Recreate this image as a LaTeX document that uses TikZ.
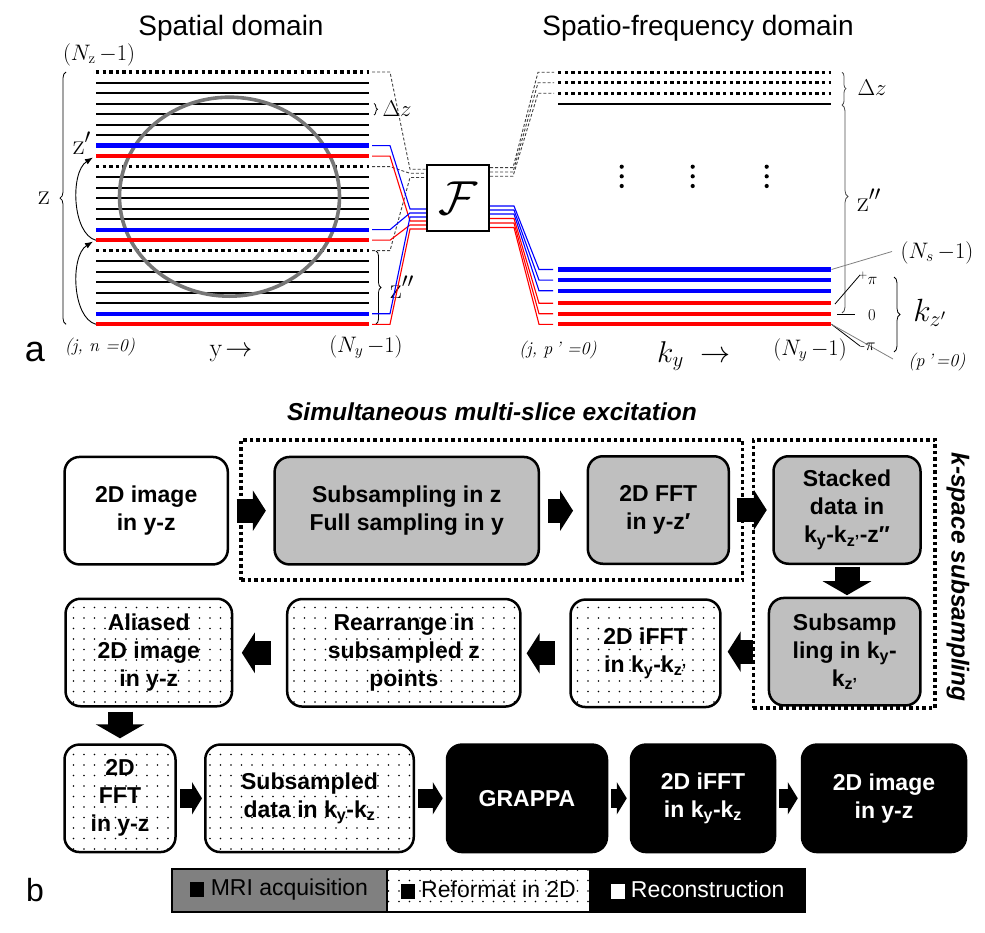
\documentclass[tikz,border=0pt]{standalone}
\usepackage{graphicx}
\usepackage{fontspec}
\newfontfamily\arial{Liberation Sans}
\usetikzlibrary{decorations.pathreplacing,patterns,arrows.meta,calc}
\pgfdeclarepatternformonly{sparsedots}{\pgfqpoint{-1pt}{-1pt}}{\pgfqpoint{1pt}{1pt}}{\pgfqpoint{10.5pt}{10.5pt}}{\pgfpathcircle{\pgfqpoint{0pt}{0pt}}{0.9pt}\pgfusepath{fill}}
\definecolor{boxgray}{RGB}{191,191,191}
\definecolor{leggray}{RGB}{128,128,128}
\definecolor{circgray}{RGB}{118,118,118}
\definecolor{mblue}{RGB}{0,0,255}
\definecolor{mred}{RGB}{255,0,0}
\newcommand\fsz[1]{\fontsize{#1}{#1}\selectfont}
\newcommand\mth[2]{\fsz{20}\scalebox{#1}{$#2$}}
\begin{document}
\begin{tikzpicture}[x=1pt,y=-1pt,
  hl/.style={line width=2pt},
  dl/.style={line width=3.3pt, dash pattern=on 3.3pt off 3.3pt},
  bl/.style={line width=4.2pt, draw=mblue},
  rl/.style={line width=4.2pt, draw=mred},
  tb/.style={line width=1.1pt, draw=mblue},
  tr/.style={line width=1.1pt, draw=mred},
  dsh/.style={line width=0.9pt, dash pattern=on 3pt off 2pt, draw=black!75},
  brc/.style={decorate, decoration={brace, amplitude=#1}, line width=0.8pt},
  lbl/.style={inner sep=0pt},
  flowbox/.style={draw, line width=2.5pt, rounded corners=15pt, align=center, inner sep=0pt, minimum height=107.5pt, font=\arial\bfseries\fontsize{23}{28}\selectfont},
  acq/.style={flowbox, fill=boxgray},
  refm/.style={flowbox, preaction={fill=white}, pattern=sparsedots},
  rec/.style={flowbox, fill=black, text=white},
  harrow/.style={line width=24pt, -{Triangle[length=13pt,width=40pt]}},
  harrowsm/.style={line width=19pt, -{Triangle[length=10pt,width=32pt]}},
  varrow/.style={line width=25pt, -{Triangle[length=14pt,width=48pt]}},
  dotrect/.style={draw, line width=3.5pt, dash pattern=on 3.5pt off 3pt, inner sep=0pt},
  legbox/.style={draw, line width=2pt, minimum width=#1, minimum height=43pt, inner sep=0pt, font=\arial\fsz{23}}
]
\useasboundingbox (0,0) rectangle (985,933);

% ---------------- part a: spatial domain ----------------
\node[lbl, font=\arial\fsz{28}] (t1) at (231,28) {Spatial domain};
\node[lbl, font=\arial\fsz{28}] (t2) at (698,28) {Spatio-frequency domain};

\foreach \i in {1,2,3,4,5,6,10,11,12,13,14,18,19,20,21,22}
  \draw[hl] (96,{72+10.51*\i}) -- (369,{72+10.51*\i});
\foreach \i in {0,9,17}
  \draw[dl] (96,{72+10.51*\i}) -- (369,{72+10.51*\i});
\draw[line width=3.6pt, circgray] (229.5,196.7) ellipse [x radius=110pt, y radius=99.5pt];
\foreach \i in {7,15,23}
  \draw[bl] (96,{72+10.51*\i}) -- (369,{72+10.51*\i});
\foreach \i in {8,16,24}
  \draw[rl] (96,{72+10.51*\i}) -- (369,{72+10.51*\i});

% curved arrows
\draw[line width=0.9pt, -{Latex[length=8pt,width=6pt]}] (96,324.3) .. controls (72,318) and (70,256) .. (93,241.5);
\draw[line width=0.9pt, -{Latex[length=8pt,width=6pt]}] (96,240.3) .. controls (72,234) and (70,172) .. (93,157.5);

% braces left
\draw[brc=6pt] (66,324.3) -- (66,72);
\node[lbl] (zl) at (44,198) {\mth{1.45}{\mathrm{z}}};
\node[lbl] (zpl) at (82,143) {\mth{1.45}{\mathrm{z}'}};
\node[lbl] (nz) at (99,55) {\mth{1.08}{(N_{\mathrm{z}}\,{-}1)}};
\draw[brc=3.5pt] (374,103.5) -- (374,115);
\node[lbl] (dzl) at (397,109) {\mth{1.1}{\Delta z}};
\draw[brc=5pt] (376,251) -- (376,324);
\node[lbl] (zppl) at (402,287) {\mth{1.45}{\mathrm{z}''}};
\node[lbl] (jn) at (100,347) {\fsz{18}\textit{(j, n =0)}};
\node[lbl] (yarr) at (231,354) {\mth{1.3}{\mathrm{y}\!\rightarrow}};
\node[lbl] (nyl) at (366,347) {\mth{1.08}{(N_y\,{-}1)}};
\node[lbl, font=\arial\fsz{36}] (la) at (35,352) {a};

% F box
\node[draw, line width=1.8pt, minimum width=62.5pt, minimum height=66.5pt, inner sep=0pt] (F) at (458,198) {\mth{2.3}{\mathcal{F}}};

% dashed connectors left
\draw[dsh] (372,72) -- (390,72) -- (410,169.3) -- (F.west |- {0,169.3});
\draw[dsh] (372,166.7) -- (390,166.7) -- (410,173.3) -- (F.west |- {0,173.3});
\draw[dsh] (372,250.7) -- (390,250.7) -- (410,177.5) -- (F.west |- {0,177.5});
% colored connectors left
\draw[tb] (372,145.6) -- (390,145.6) -- (410,209) -- (F.west |- {0,209});
\draw[tr] (372,156.1) -- (390,156.1) -- (410,221) -- (F.west |- {0,221});
\draw[tb] (372,229.7) -- (390,229.7) -- (410,213) -- (F.west |- {0,213});
\draw[tr] (372,240.2) -- (390,240.2) -- (410,225) -- (F.west |- {0,225});
\draw[tb] (372,313.7) -- (390,313.7) -- (410,217) -- (F.west |- {0,217});
\draw[tr] (372,324.3) -- (390,324.3) -- (410,229) -- (F.west |- {0,229});

% ---------------- spatio-frequency domain ----------------
\foreach \yy in {72.3,82.8,93.3}
  \draw[dl] (558,\yy) -- (831,\yy);
\draw[hl] (558,103.8) -- (831,103.8);
\foreach \yy in {269.5,280.2,290.8}
  \draw[bl] (558,\yy) -- (831,\yy);
\foreach \yy in {303.3,313.7,324.3}
  \draw[rl] (558,\yy) -- (831,\yy);

\draw[dsh] (F.east |- {0,167.7}) -- (513,167.7) -- (538,72.3) -- (554,72.3);
\draw[dsh] (F.east |- {0,172}) -- (513,172) -- (538,82.8) -- (554,82.8);
\draw[dsh] (F.east |- {0,176.3}) -- (513,176.3) -- (538,93.3) -- (554,93.3);

\draw[tb] (F.east |- {0,206}) -- (514,206) -- (539,269.5) -- (553,269.5);
\draw[tb] (F.east |- {0,210}) -- (514,210) -- (539,280.2) -- (553,280.2);
\draw[tb] (F.east |- {0,214}) -- (514,214) -- (539,290.8) -- (553,290.8);
\draw[tr] (F.east |- {0,218.5}) -- (514,218.5) -- (539,303.3) -- (553,303.3);
\draw[tr] (F.east |- {0,223}) -- (514,223) -- (539,313.7) -- (553,313.7);
\draw[tr] (F.east |- {0,227.5}) -- (514,227.5) -- (539,324.3) -- (553,324.3);

\foreach \x in {621.7,692.7,766.7}
  \foreach \yy in {166.7,176.3,186}
    \fill (\x,\yy) circle (2.1pt);

\draw[brc=4pt, black!70] (842,72.3) -- (842,105);
\node[lbl] (dzr) at (872,88) {\mth{1.1}{\Delta z}};
\draw[brc=6pt, black!70, decoration={aspect=0.44}] (842,105) -- (842,313);
\node[lbl] (zppr) at (869,200) {\mth{1.45}{\mathrm{z}''}};
\draw[brc=6pt] (894,277) -- (894,352);
\node[lbl] (kz) at (930,313) {\mth{1.55}{k_{z'}}};

\draw[line width=0.8pt, black!50] (831.5,269.5) -- (892,251.5);
\node[lbl] (ns) at (937,253) {\mth{1.08}{(N_s\,{-}1)}};
\draw[line width=0.8pt] (835,304) -- (860,275);
\node[lbl] (pp) at (868,278) {\mth{0.8}{^{+}\pi}};
\draw[line width=0.8pt] (837,314.3) -- (855,314.3);
\node[lbl] (zero) at (872,315) {\mth{0.8}{0}};
\draw[line width=0.8pt] (831.5,324.3) -- (860,346);
\draw[line width=0.8pt, black!50] (831.5,324.3) -- (893,359);
\node[lbl] (mp) at (868,347) {\fsz{16}-$\pi$};
\node[lbl] (p0) at (937,362) {\fsz{18}\textit{(p\,'\,=0)}};
\node[lbl] (jp) at (558,350) {\fsz{18}\textit{(j, p\,' =0)}};
\node[lbl] (kyarr) at (694,356) {\mth{1.45}{k_y\;\rightarrow}};
\node[lbl] (nyr) at (810,350) {\mth{1.08}{(N_y\,{-}1)}};

% ---------------- part b: flowchart ----------------
\node[lbl, font=\arial\bfseries\itshape\fsz{24.5}] (smst) at (492,412) {Simultaneous multi-slice excitation};
\node[dotrect, minimum width=501.7pt, minimum height=140pt] (sms) at (491.85,510) {};
\node[dotrect, minimum width=181.7pt, minimum height=268pt] (ksp) at (844.15,574) {};
\node[lbl, rotate=-90, font=\arial\bfseries\itshape\fsz{24.5}] (kspt) at (958,577) {k-space subsampling};

\node[flowbox, minimum width=163.2pt] (A) at (146.2,510.7) {2D image\\in y-z};
\node[acq, minimum width=264.2pt] (B) at (406.7,510.7) {Subsampling in z\\Full sampling in y};
\node[acq, minimum width=141pt] (C) at (658.3,510) {2D FFT\\in y-z′};
\node[acq, minimum width=147pt] (D) at (847,510) {Stacked\\data in\\k\textsubscript{y}-k\textsubscript{z’}-z″};
\node[acq, minimum width=151.5pt] (E) at (844.7,651.7) {Subsamp\\ling in k\textsubscript{y}-\\k\textsubscript{z’}};
\node[refm, minimum width=149.9pt] (Fi) at (645.5,653.3) {2D iFFT\\in k\textsubscript{y}-k\textsubscript{z’}};
\node[refm, minimum width=233.2pt] (G) at (403.8,652.8) {Rearrange in\\subsampled z\\points};
\node[refm, minimum width=166.5pt] (H) at (148.8,652.5) {Aliased\\2D image\\in y-z};
\node[refm, minimum width=111pt] (I) at (120,798.3) {2D\\FFT\\in y-z};
\node[refm, minimum width=208.5pt] (J) at (309.5,798.3) {Subsampled\\data in k\textsubscript{y}-k\textsubscript{z}};
\node[rec, minimum width=160pt] (K) at (527,798.3) {GRAPPA};
\node[rec, minimum width=144pt] (L) at (703,798.3) {2D iFFT\\in k\textsubscript{y}-k\textsubscript{z}};
\node[rec, minimum width=164pt] (M) at (884,798.3) {2D image\\in y-z};

\draw[harrow, shorten <=7.5pt, shorten >=7.5pt] (A.east) -- (B.west);
\draw[harrow, shorten <=8pt, shorten >=13.5pt] (B.east) -- (B.east -| C.west);
\draw[harrow, shorten <=6.5pt, shorten >=5.5pt] (C.east) -- (C.east -| D.west);
\draw[varrow, shorten <=1.5pt, shorten >=1.5pt] (D.south) -- (D.south |- E.north);
\draw[harrow, shorten <=14.5pt, shorten >=6pt] (E.west) -- (E.west -| Fi.east);
\draw[harrow, shorten <=14.5pt, shorten >=5pt] (Fi.west) -- (Fi.west -| G.east);
\draw[harrow, shorten <=14.5pt, shorten >=8.5pt] (G.west) -- (G.west -| H.east);
\draw[varrow, shorten <=4pt, shorten >=5pt] (I.north |- H.south) -- (I.north);
\draw[harrowsm, shorten <=3.3pt, shorten >=2pt] (I.east) -- (J.west);
\draw[harrowsm, shorten <=3pt, shorten >=3pt] (J.east) -- (K.west);
\draw[harrowsm, shorten <=3pt, shorten >=3pt] (K.east) -- (L.west);
\draw[harrowsm, shorten <=3pt, shorten >=3pt] (L.east) -- (M.west);

% legend
\node[legbox=215pt, fill=leggray] (lg1) at (279.2,890) {\rule[-1.5pt]{14pt}{15pt} MRI acquisition};
\node[legbox=203.3pt, preaction={fill=white}, pattern=sparsedots] (lg2) at (488.35,890) {\rule[-1.5pt]{14pt}{15pt} Reformat in 2D};
\node[legbox=215pt, fill=black, text=white] (lg3) at (697.5,890) {\rule[-1.5pt]{14pt}{15pt} Reconstruction};
\node[lbl, font=\arial\fsz{32}] (lb) at (35,890) {b};
\end{tikzpicture}
\end{document}
